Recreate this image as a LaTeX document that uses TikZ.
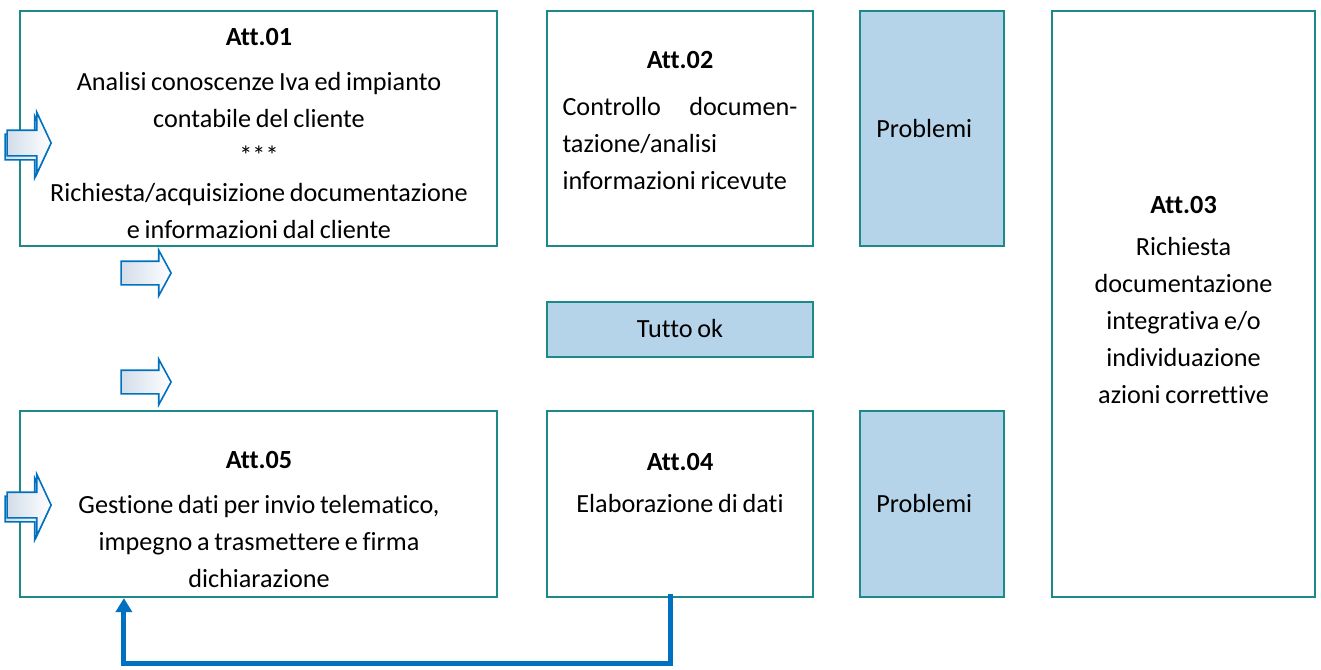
\documentclass[tikz,border=0pt]{standalone}
\usepackage{fontspec}
\setmainfont{Carlito}[Ligatures=NoCommon,WordSpace=0.8]
\usetikzlibrary{shapes.arrows,arrows.meta,positioning}
\definecolor{bordo}{RGB}{28,138,138}
\definecolor{azzurro}{RGB}{181,211,233}
\definecolor{blu}{RGB}{0,112,192}
\definecolor{grigio}{RGB}{210,221,234}
\begin{document}
\begin{tikzpicture}[x=0.5pt,y=-0.5pt,>={Triangle[width=8pt,length=7pt]},
box/.style={draw=bordo,line width=1.1pt,inner sep=0pt},
pbox/.style={box,fill=azzurro},
txt/.style={anchor=base,align=flush center,inner sep=0pt,font=\fontsize{13.1}{18.5}\selectfont},
freccia/.style={single arrow,draw=blu,line width=0.8pt,left color=grigio,right color=white,anchor=tip,
  text height=0pt,text depth=0pt,inner xsep=0pt,inner ysep=5.5pt,minimum height=25pt,
  single arrow head extend=5.5pt,single arrow tip angle=123},
ingresso/.style={freccia,inner ysep=6pt,minimum height=22pt,single arrow head extend=9pt,single arrow tip angle=130},
fb/.style={draw=blu,line width=2.5pt}]
\useasboundingbox (0,0) rectangle (1321,669);
\node[box,minimum width=238.5pt,minimum height=117.5pt](att01)at(258.5,128.5){};
\node[box,minimum width=133pt,minimum height=117.5pt](att02)at(680,128.5){};
\node[pbox,minimum width=72pt,minimum height=117.5pt](prob1)at(932,128.5){};
\node[box,minimum width=131.5pt,minimum height=293pt](att03)at(1183.5,304){};
\node[pbox,minimum width=133pt,minimum height=27.5pt](ok)at(680,329.5){};
\node[box,minimum width=238.5pt,minimum height=93pt](att05)at(258.5,504){};
\node[box,minimum width=133pt,minimum height=93pt](att04)at(680,504){};
\node[pbox,minimum width=72pt,minimum height=93pt](prob2)at(932,504){};
\node[txt,text width=232pt](t01)at(259,45){\textbf{Att.01}\\[4pt]Analisi conoscenze Iva ed impianto\\contabile del cliente\\{***}\\Richiesta/acquisizione documentazione\\e informazioni dal cliente};
\node[txt,text width=117.5pt,align=flush left](t02)at(680,68){\makebox[\linewidth]{\textbf{Att.02}}\\[5pt]Controllo\hfill documen-\\tazione/analisi\\informazioni ricevute};
\node[txt,anchor=base west](tp1)at(876,137){Problemi};
\node[txt,text width=125pt](t03)at(1183.5,213){\textbf{Att.03}\\[2.5pt]Richiesta\\documentazione\\integrativa e/o\\individuazione\\azioni correttive};
\node[txt](tok)at(680,337){Tutto ok};
\node[txt,text width=232pt](t05)at(259,468){\textbf{Att.05}\\[4pt]Gestione dati per invio telematico,\\impegno a trasmettere e firma\\dichiarazione};
\node[txt,text width=125pt](t04)at(680,470){\textbf{Att.04}\\[2.5pt]Elaborazione di dati};
\node[txt,anchor=base west](tp2)at(876,512){Problemi};
\node[ingresso](in01b)at(50,147){};
\node[ingresso](in01)at(52,143){};
\node[freccia](f1)at(172,273){};
\node[freccia](f2)at(172,382){};
\node[ingresso](in05b)at(50,509){};
\node[ingresso](in05)at(52,505){};
\draw[fb,->]([xshift=-5pt,yshift=2pt]att04.south)--++(0,69)-|([xshift=52.5pt]att05.south west);
\end{tikzpicture}
\end{document}
